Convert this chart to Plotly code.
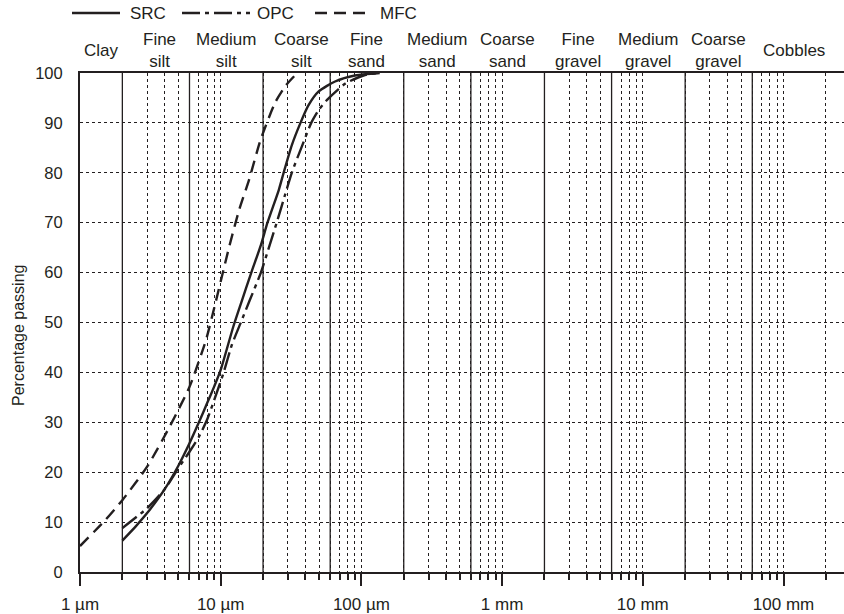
import math
import plotly.graph_objects as go

# ---------------- data ----------------
src_d = [2, 2.5, 3, 4, 5, 6, 7, 8, 9, 10, 12.3, 14, 16.5, 19.3, 21.5, 25.9, 28, 32, 36.9, 42, 49.7, 65, 90, 135]
src_p = [6.3, 9.2, 11.8, 16.6, 21.3, 25.8, 30, 33.8, 37.2, 40.5, 49.2, 54, 60, 65.5, 70, 76.6, 80, 85.5, 90, 93.5, 96.3, 98.3, 99.5, 100]

opc_d = [2, 3, 4, 5, 6, 7, 8, 9, 10.5, 12, 13.9, 16, 19.3, 22, 25, 28.6, 32, 38, 44, 50, 57, 77, 106, 135]
opc_p = [8.8, 12.8, 16.6, 20.8, 24.1, 27.1, 30.5, 34.5, 40, 45.5, 50, 54.3, 60, 65, 70, 75.5, 80, 85.5, 90, 92.7, 94.6, 97.9, 99.6, 100]

mfc_d = [1, 1.5, 2, 3, 4.33, 6, 7.86, 9.1, 11.5, 13.5, 15.9, 19.2, 24.5, 29, 35]
mfc_p = [5.2, 10.3, 14.4, 21.1, 29.1, 37.1, 46.5, 53.5, 65.2, 72.5, 78.6, 86.6, 94.2, 97.5, 100]

series_names = ["SRC", "OPC", "MFC"]

# class boundaries (µm) and class names
class_edges_um = [1, 2, 6, 20, 60, 200, 600, 2000, 6000, 20000, 60000, 200000]
class_names = ["Clay", "Fine<br>silt", "Medium<br>silt", "Coarse<br>silt", "Fine<br>sand",
               "Medium<br>sand", "Coarse<br>sand", "Fine<br>gravel", "Medium<br>gravel",
               "Coarse<br>gravel", "Cobbles"]

xtick_vals = [1, 10, 100, 1000, 10000, 100000]
xtick_text = ["1 µm", "10 µm", "100 µm", "1 mm", "10 mm", "100 mm"]
ytick_vals = [0, 10, 20, 30, 40, 50, 60, 70, 80, 90, 100]

# ---------------- style ----------------
INK = "#231f20"
FONT = "Liberation Sans, Arial, sans-serif"
W, H = 844, 614
L, R, T, B = 80, 844, 73, 572
label_xshift = {1: 4, 3: 5, 10: 5}


def px_x(px):
    return (px - L) / (R - L)


def px_y(py):
    return (B - py) / (B - T)


fig = go.Figure()

# class boundary solid vertical lines
bx, by = [], []
for b in class_edges_um[1:-1]:
    bx += [b, b, None]
    by += [0, 100, None]
fig.add_trace(go.Scatter(x=bx, y=by, mode="lines", line=dict(color=INK, width=1.3),
                         hoverinfo="skip", showlegend=False))

line_styles = {
    "SRC": dict(color=INK, width=2.4, dash="solid"),
    "OPC": dict(color=INK, width=2.4, dash="18px,5px,4px,5px"),
    "MFC": dict(color=INK, width=2.4, dash="12px,7px"),
}
for name, d, p in [("SRC", src_d, src_p), ("OPC", opc_d, opc_p), ("MFC", mfc_d, mfc_p)]:
    fig.add_trace(go.Scatter(x=d, y=p, mode="lines", name=name,
                             line=dict(shape="spline", smoothing=0.6, **line_styles[name]),
                             showlegend=False))

annotations = []
shapes = []

# class labels above plot
for i, name in enumerate(class_names):
    lo, hi = class_edges_um[i], class_edges_um[i + 1]
    xc = (math.log10(lo) + math.log10(hi)) / 2
    annotations.append(dict(x=xc, y=px_y(50), xref="x", yref="paper", text=name,
                            showarrow=False, xanchor="center", yanchor="middle",
                            xshift=label_xshift.get(i, 0), align="center",
                            font=dict(size=17, color=INK, family=FONT)))

# y axis title
annotations.append(dict(x=px_x(18), y=px_y(336), xref="paper", yref="paper",
                        text="Percentage passing", textangle=-90, showarrow=False,
                        xanchor="center", yanchor="middle",
                        font=dict(size=16, color=INK, family=FONT)))

# legend (manual)
leg = [("SRC", 72, 120, 128), ("OPC", 182, 250, 255), ("MFC", 315, 365, 378)]
for name, x0, x1, xt in leg:
    st = line_styles[name]
    shapes.append(dict(type="line", xref="paper", yref="paper", x0=px_x(x0), x1=px_x(x1),
                       y0=px_y(13), y1=px_y(13),
                       line=dict(color=INK, width=2.4, dash=st["dash"])))
    annotations.append(dict(x=px_x(xt), y=px_y(13), xref="paper", yref="paper", text=name,
                            showarrow=False, xanchor="left", yanchor="middle",
                            font=dict(size=17, color=INK, family=FONT)))

fig.update_layout(
    width=W, height=H,
    margin=dict(l=L, r=W - R, t=T, b=H - B),
    paper_bgcolor="white", plot_bgcolor="white",
    font=dict(family=FONT, color=INK, size=17),
    annotations=annotations, shapes=shapes,
    showlegend=False,
    xaxis=dict(
        type="log", range=[0, (R - L) / 140.7],
        tickmode="array", tickvals=xtick_vals, ticktext=xtick_text,
        ticks="outside", ticklen=12, tickwidth=2, tickcolor=INK,
        showline=True, linewidth=2, linecolor=INK, mirror=True,
        showgrid=True, gridcolor=INK, gridwidth=1, griddash="dot",
        zeroline=False, ticklabelstandoff=4,
        tickfont=dict(size=17, color=INK, family=FONT),
        minor=dict(dtick="D1", ticks="outside", ticklen=6, tickwidth=2, tickcolor=INK,
                   showgrid=True, gridcolor=INK, gridwidth=1, griddash="dot"),
    ),
    yaxis=dict(
        range=[0, 100], tickmode="array", tickvals=ytick_vals,
        ticks="", showline=True, linewidth=2, linecolor=INK,
        showgrid=True, gridcolor=INK, gridwidth=1, griddash="dot",
        zeroline=False, ticklabelstandoff=12,
        tickfont=dict(size=16.5, color=INK, family=FONT),
    ),
)

fig.write_html("out.html")
